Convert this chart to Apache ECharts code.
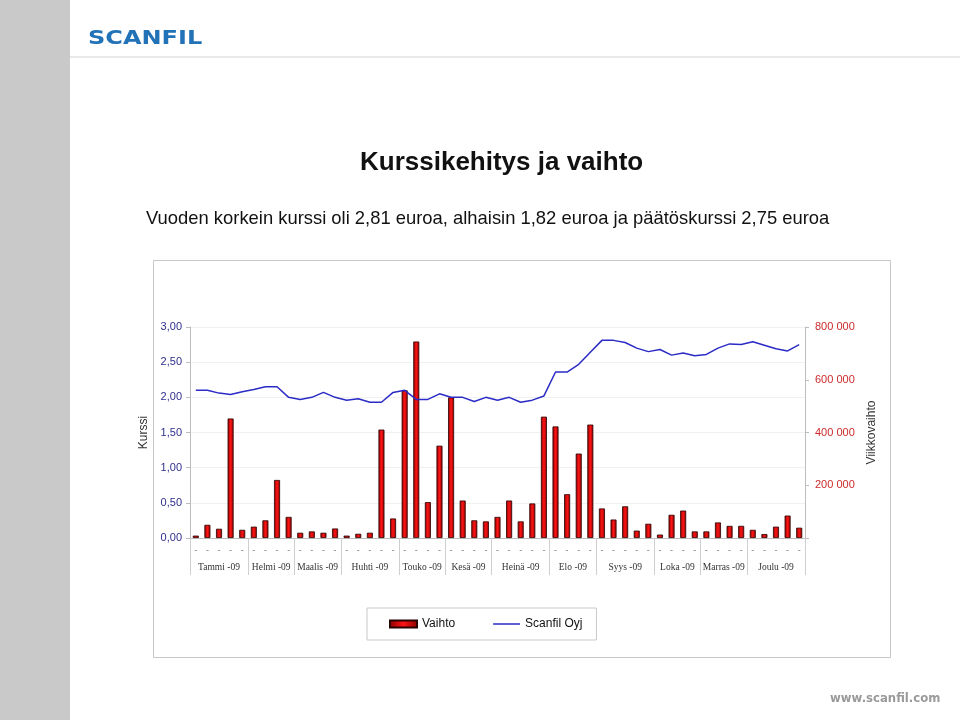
<!DOCTYPE html>
<html>
<head>
<meta charset="utf-8">
<script src="https://cdn.jsdelivr.net/npm/echarts@6/dist/echarts.min.js"></script>
<style>
  html, body { margin: 0; padding: 0; background: #fff; }
  #box { width: 960px; height: 720px; }
</style>
</head>
<body>
<div id="box"></div>
<script>
// viikot 1-53 / 2009
const weeks = [];
for (let i = 1; i <= 53; i++) weeks.push('Vk ' + i);

// viikkovaihto (kpl)
const volume = [
  9000, 50000, 35000, 453000, 31000, 43000, 67000, 220000, 80000, 20000,
  25000, 20000, 36000, 9000, 16000, 20000, 411000, 74000, 560000, 745000,
  136000, 350000, 533000, 142000, 67000, 63000, 80000, 142000, 63000, 131000,
  460000, 423000, 166000, 320000, 430000, 112000, 70000, 120000, 28000, 54000,
  13000, 88000, 104000, 25000, 25000, 59000, 46000, 46000, 31000, 15000,
  43000, 85000, 39000
];

// kurssi (euroa)
const price = [
  2.10, 2.10, 2.06, 2.04, 2.08, 2.11, 2.15, 2.15, 2.00, 1.97,
  2.00, 2.07, 2.00, 1.96, 1.98, 1.93, 1.93, 2.07, 2.10, 1.97,
  1.97, 2.05, 2.00, 2.00, 1.94, 2.00, 1.96, 2.00, 1.93, 1.96,
  2.02, 2.36, 2.36, 2.47, 2.64, 2.81, 2.81, 2.78, 2.70, 2.65,
  2.68, 2.60, 2.63, 2.59, 2.61, 2.70, 2.76, 2.75, 2.79, 2.74,
  2.69, 2.66, 2.75
];

const months = ['Tammi -09', 'Helmi -09', 'Maalis -09', 'Huhti -09', 'Touko -09', 'Kesä -09',
  'Heinä -09', 'Elo -09', 'Syys -09', 'Loka -09', 'Marras -09', 'Joulu -09'];
const monthWeeks = [5, 4, 4, 5, 4, 4, 5, 4, 5, 4, 4, 5];

const kurssiTicks = ['0,00', '0,50', '1,00', '1,50', '2,00', '2,50', '3,00'];

// kuukausirajat ja keskikohdat viikkoakselilla
const monthEdges = [0];
const monthMid = [];
monthWeeks.forEach((n, i) => {
  monthMid.push(monthEdges[i] + n / 2);
  monthEdges.push(monthEdges[i] + n);
});

const font = '"Liberation Sans", Arial, sans-serif';
// legendan viivasymboli: ohut vaakaviiva keskellä (kuvasuhde 100:26 ~ 27:7)
const lineIcon = 'path://M0,0L0.01,0M0,10.2L100,10.2L100,15.8L0,15.8ZM0,26L0.01,26';
const myChart = echarts.init(document.getElementById('box'));

const option = {
  animation: false,
  backgroundColor: '#fff',
  title: [
    {
      text: 'Kurssikehitys ja vaihto',
      left: 355, top: 145,
      textStyle: { fontFamily: font, fontSize: 26, fontWeight: 'bold', color: '#111' }
    },
    {
      text: 'Vuoden korkein kurssi oli 2,81 euroa, alhaisin 1,82 euroa ja päätöskurssi 2,75 euroa',
      left: 141, top: 205,
      textStyle: { fontFamily: font, fontSize: 18.4, fontWeight: 'normal', color: '#111' }
    }
  ],
  graphic: [
    { type: 'rect', shape: { x: 0, y: 0, width: 70, height: 720 }, style: { fill: '#c9c9c9' }, silent: true },
    { type: 'line', shape: { x1: 70, y1: 57, x2: 960, y2: 57 }, style: { stroke: '#d4d4d4', lineWidth: 1 }, silent: true },
    {
      type: 'text', x: 88, y: 29, scaleX: 1.2,
      style: { text: 'SCANFIL', fill: '#2272b8', font: '900 20px "DejaVu Sans", sans-serif' }
    },
    {
      type: 'text', left: 830, top: 693,
      style: { text: 'www.scanfil.com', fill: '#9a9a9a', font: 'bold 11.7px "DejaVu Sans", sans-serif' }
    },
    { type: 'rect', shape: { x: 153.5, y: 260.5, width: 737, height: 397 }, style: { fill: 'none', stroke: '#c8c8c8', lineWidth: 1 }, silent: true }
  ],
  legend: {
    left: 367, top: 608,
    padding: [10, 14, 10, 22],
    borderColor: '#c8c8c8', borderWidth: 1,
    itemGap: 38, itemWidth: 27, itemHeight: 7,
    textStyle: { fontFamily: font, fontSize: 12, color: '#111' },
    data: [
      { name: 'Vaihto', icon: 'rect' },
      { name: 'Scanfil Oyj', icon: lineIcon, itemStyle: { color: '#2b2bc6' } }
    ]
  },
  grid: { left: 190, right: 155, top: 327, bottom: 182 },
  xAxis: [
    {
      type: 'category',
      data: weeks,
      boundaryGap: true,
      axisLine: { lineStyle: { color: '#bdbdbd' } },
      axisTick: { length: 18, lineStyle: { color: '#cfcfcf' } },
      axisLabel: { formatter: () => '-', margin: 8, fontSize: 9, color: '#777', interval: 0 },
      splitLine: { show: false }
    },
    {
      type: 'value',
      min: 0, max: 53,
      position: 'bottom',
      axisLine: { show: false },
      splitLine: { show: false },
      axisTick: { customValues: monthEdges, length: 37, lineStyle: { color: '#cfcfcf' } },
      axisLabel: {
        customValues: monthMid,
        margin: 24,
        fontSize: 9.5,
        fontFamily: '"Liberation Serif", "Times New Roman", serif',
        color: '#333',
        formatter: (v) => {
          const i = monthMid.findIndex(m => Math.abs(m - v) < 0.01);
          return i >= 0 ? months[i] : '';
        }
      }
    }
  ],
  yAxis: [
    {
      type: 'value',
      min: 0, max: 3, interval: 0.5,
      name: 'Kurssi',
      nameLocation: 'middle', nameGap: 40, nameRotate: 90,
      nameTextStyle: { fontFamily: font, fontSize: 12, color: '#333' },
      axisLine: { show: true, lineStyle: { color: '#bdbdbd' } },
      axisTick: { show: true, length: 4, lineStyle: { color: '#bdbdbd' } },
      axisLabel: {
        margin: 8, fontFamily: font, fontSize: 11, color: '#2e2e8e',
        formatter: (v) => kurssiTicks[Math.round(v / 0.5)]
      },
      splitLine: { show: true, lineStyle: { color: '#f1f1f1' } }
    },
    {
      type: 'value',
      min: 0, max: 800000, interval: 200000,
      position: 'right',
      name: 'Viikkovaihto',
      nameLocation: 'middle', nameGap: 55, nameRotate: 90,
      nameTextStyle: { fontFamily: font, fontSize: 12, color: '#333' },
      axisLine: { show: true, lineStyle: { color: '#bdbdbd' } },
      axisTick: { show: true, length: 4, lineStyle: { color: '#bdbdbd' } },
      axisLabel: {
        margin: 10, fontFamily: font, fontSize: 11, color: '#cc2a2a',
        formatter: (v) => v === 0 ? '' : (v / 1000) + ' 000'
      },
      splitLine: { show: false }
    }
  ],
  series: [
    {
      name: 'Vaihto',
      type: 'bar',
      xAxisIndex: 0, yAxisIndex: 1,
      barWidth: 6,
      data: volume,
      itemStyle: {
        color: new echarts.graphic.LinearGradient(0, 0, 1, 0, [
          { offset: 0, color: '#8a0000' },
          { offset: 0.5, color: '#ff1414' },
          { offset: 1, color: '#8a0000' }
        ]),
        borderColor: '#2a0000',
        borderWidth: 0.8
      }
    },
    {
      name: 'Scanfil Oyj',
      type: 'line',
      xAxisIndex: 0, yAxisIndex: 0,
      symbol: 'none',
      data: price,
      lineStyle: { color: '#2b2bc6', width: 1.5 },
      itemStyle: { color: '#2b2bc6' },
      z: 3
    }
  ]
};

myChart.setOption(option);
</script>
</body>
</html>
